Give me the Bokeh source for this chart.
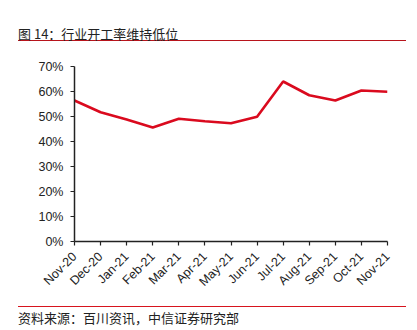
import math
from bokeh.plotting import figure
from bokeh.layouts import column
from bokeh.models import Range1d, FixedTicker, NumeralTickFormatter, Div
from bokeh.embed import file_html
from bokeh.resources import INLINE

months = ["Nov-20", "Dec-20", "Jan-21", "Feb-21", "Mar-21", "Apr-21", "May-21",
          "Jun-21", "Jul-21", "Aug-21", "Sep-21", "Oct-21", "Nov-21"]
rate = [0.564, 0.517, 0.488, 0.456, 0.491, 0.481, 0.473,
        0.499, 0.640, 0.585, 0.564, 0.604, 0.599]
y_ticks = [0, 0.1, 0.2, 0.3, 0.4, 0.5, 0.6, 0.7]
title_text = "图 14：行业开工率维持低位"
source_text = "资料来源：百川资讯，中信证券研究部"

W = 417
HEAD_H, MAIN_H, FOOT_H = 50, 250, 30
L, R, T, B = 74, 30, 16, 59

font_css = "font-family:'Noto Sans CJK SC',sans-serif;font-size:13px;color:#222222;white-space:nowrap;"

head = Div(width=W, height=HEAD_H, margin=0,
           text=('<div style="margin:0;padding:0;position:absolute;left:18px;top:27px;width:388px;'
                 'height:14px;line-height:14px;border-bottom:1.3px solid #B8141C;' + font_css + '">'
                 + title_text + '</div>'))

# main chart
p = figure(width=W, height=MAIN_H, output_backend="svg", toolbar_location=None,
           x_range=Range1d(0, len(months) - 1), y_range=Range1d(0, 0.7),
           min_border_left=L, min_border_right=R, min_border_top=T, min_border_bottom=B)
p.outline_line_color = None
p.xgrid.visible = False
p.ygrid.visible = False

xs = list(range(len(months)))
p.line(xs, rate, line_color="#DA0A1E", line_width=2.6)

p.xaxis.ticker = FixedTicker(ticks=xs)
p.xaxis.major_label_overrides = {i: m for i, m in enumerate(months)}
p.xaxis.major_label_orientation = math.pi / 4
p.yaxis.ticker = FixedTicker(ticks=y_ticks)
p.yaxis.formatter = NumeralTickFormatter(format="0%")
for ax in (p.xaxis, p.yaxis):
    ax.axis_line_color = "#222222"
    ax.axis_line_width = 1.5
    ax.major_tick_line_color = "#222222"
    ax.major_tick_line_width = 1.2
    ax.major_tick_in = 0
    ax.major_tick_out = 4
    ax.minor_tick_line_color = None
    ax.major_label_text_font = "Liberation Sans"
    ax.major_label_text_font_size = "12.5px"
    ax.major_label_text_color = "#222222"
p.yaxis.major_label_standoff = 7
p.xaxis.major_label_standoff = 9

foot = Div(width=W, height=FOOT_H, margin=0,
           text=('<div style="margin:0;padding:0;position:absolute;left:18px;top:5.5px;width:388px;'
                 'height:21px;line-height:21px;border-top:1.3px solid #D7141E;' + font_css + '">'
                 + source_text + '</div>'))

layout = column(head, p, foot, spacing=0)
open("out.html", "w").write(file_html(layout, INLINE))
